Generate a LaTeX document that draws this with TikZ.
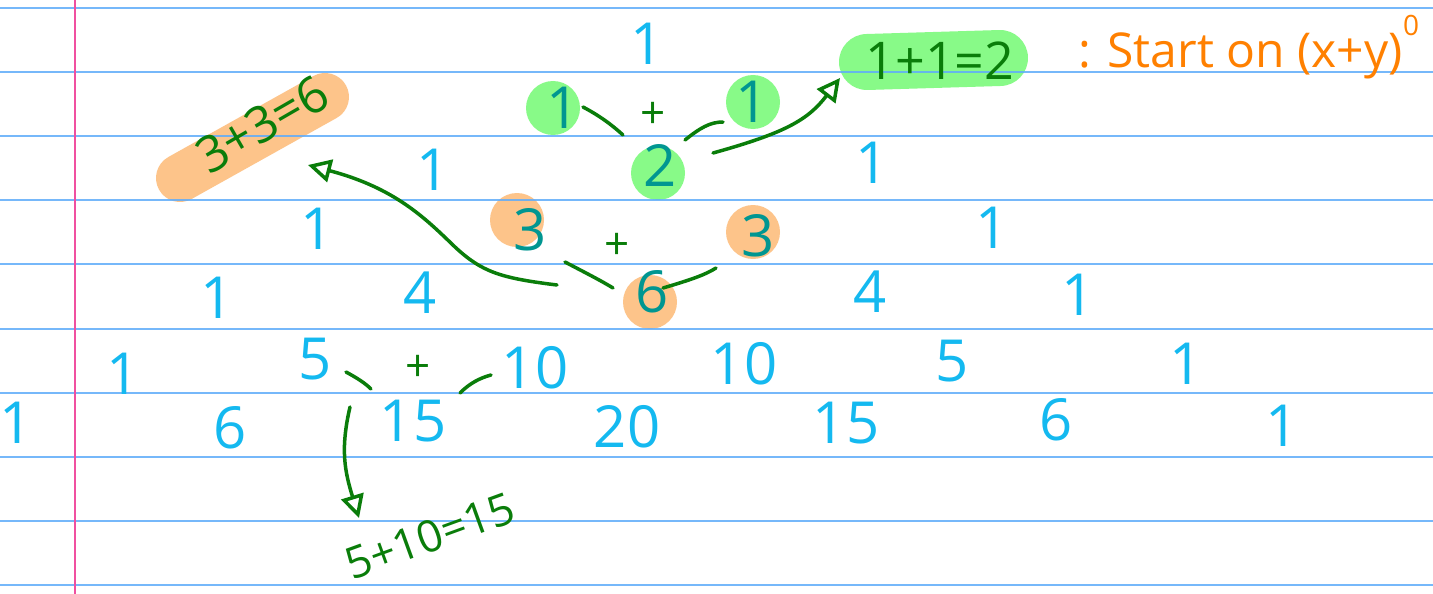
\documentclass[tikz,border=0pt]{standalone}
\usepackage{fontspec}
\setmainfont{Open Sans}
\usetikzlibrary{arrows.meta}
\definecolor{numcyan}{RGB}{20,185,240}
\definecolor{numteal}{RGB}{0,150,145}
\definecolor{pengreen}{RGB}{10,125,10}
\definecolor{hlgreen}{RGB}{136,250,136}
\definecolor{hlorange}{RGB}{253,196,138}
\definecolor{txtorange}{RGB}{255,128,0}
\definecolor{ruleblue}{RGB}{95,172,250}
\definecolor{marginpink}{RGB}{240,80,160}
\begin{document}
\begin{tikzpicture}[x=1pt,y=-1pt,
  num/.style={text=numcyan,font=\fontsize{58}{58}\selectfont,inner sep=0pt},
  cnum/.style={num,text=numteal},
  plus/.style={text=pengreen,font=\fontsize{44}{44}\selectfont,inner sep=0pt},
  pentext/.style={text=pengreen,inner sep=0pt},
  pen/.style={draw=pengreen,line width=3.5pt,line cap=round,line join=round},
  tip/.style={-{Triangle[open,length=23pt,width=23pt]}},
  rule/.style={draw=ruleblue,line width=2.2pt,opacity=0.85},
  hlg/.style={fill=hlgreen},
  hlo/.style={fill=hlorange}]
\useasboundingbox (0,0) rectangle (1433,594);
\fill[white] (0,0) rectangle (1433,594);
% highlights
\fill[hlg] (553,108) circle (27pt);
\fill[hlg] (753,102) circle (27pt);
\fill[hlg] (658,173) circle (27pt);
\fill[hlo] (517,220) circle (27pt);
\fill[hlo] (753,232) circle (27pt);
\fill[hlo] (650,302) circle (27pt);
\draw[draw=hlorange,line width=48pt,line cap=round] (180,178) -- (325,97);
\draw[draw=hlgreen,line width=56pt,line cap=round] (867,62) -- (1000,58);
% ruled paper
\foreach \yy in {8,72,136,200,264,329,393,457,521,585}
  \draw[rule] (0,\yy) -- (1433,\yy);
\draw[draw=marginpink,line width=2pt] (75,0) -- (75,594);
% row 0
\node[num] (r0a) at (647,44) {1};
% row 1
\node[cnum] (r1a) at (563,108) {1};
\node[cnum] (r1b) at (752,102) {1};
\node[plus] (p1) at (653,115) {+};
% row 2
\node[num] (r2a) at (433,170) {1};
\node[cnum] (r2b) at (660,165) {2};
\node[num] (r2c) at (872,163) {1};
% row 3
\node[num] (r3a) at (317,229) {1};
\node[cnum] (r3b) at (530,230) {3};
\node[plus] (p2) at (617,246) {+};
\node[cnum] (r3c) at (758,236) {3};
\node[num] (r3d) at (992,228) {1};
% row 4
\node[num] (r4a) at (217,298) {1};
\node[num] (r4b) at (420,293) {4};
\node[cnum] (r4c) at (652,292) {6};
\node[num] (r4d) at (870,292) {4};
\node[num] (r4e) at (1078,295) {1};
% row 5
\node[num] (r5a) at (123,374) {1};
\node[num] (r5b) at (315,359) {5};
\node[plus] (p3) at (418,368) {+};
\node[num] (r5c) at (535,368) {10};
\node[num] (r5d) at (744,364) {10};
\node[num] (r5e) at (952,361) {5};
\node[num] (r5f) at (1186,364) {1};
% row 6
\node[num] (r6a) at (16,423) {1};
\node[num] (r6b) at (230,428) {6};
\node[num] (r6c) at (413,421) {15};
\node[num] (r6d) at (627,427) {20};
\node[num] (r6e) at (846,423) {15};
\node[num] (r6f) at (1056,420) {6};
\node[num] (r6g) at (1282,426) {1};
% notes
\node[pentext,font=\fontsize{52}{52}\selectfont] (eq11) at (940,61) {1+1=2};
\node[pentext,font=\fontsize{50}{50}\selectfont,rotate=30] (eq33) at (262,124) {3+3=6};
\node[pentext,font=\fontsize{44}{44}\selectfont,rotate=20] (eq15) at (430,536) {5+10=15};
\node[text=txtorange,font=\fontsize{48}{48}\selectfont,inner sep=0pt,anchor=base west] (start) at (1078,67) {: Start on (x+y)};
\node[text=txtorange,font=\fontsize{28}{28}\selectfont,inner sep=0pt,anchor=south west] (sup) at ([yshift=-4pt]start.north east) {0};
% short strokes
\coordinate (s1a) at (583,107); \coordinate (s1b) at (623,135);
\coordinate (s2a) at (685,140); \coordinate (s2b) at (723,122);
\coordinate (s3a) at (565,262); \coordinate (s3b) at (613,288);
\coordinate (s4a) at (663,288); \coordinate (s4b) at (716,268);
\coordinate (s5a) at (346,372); \coordinate (s5b) at (371,389);
\coordinate (s6a) at (460,393); \coordinate (s6b) at (491,375);
\draw[pen] (s1a) .. controls (600,116) and (612,125) .. (s1b);
\draw[pen] (s2a) .. controls (700,128) and (710,122) .. (s2b);
\draw[pen] (s3a) .. controls (582,271) and (600,280) .. (s3b);
\draw[pen] (s4a) .. controls (690,280) and (705,275) .. (s4b);
\draw[pen] (s5a) .. controls (357,378) and (365,383) .. (s5b);
\draw[pen] (s6a) .. controls (470,383) and (480,378) .. (s6b);
% arrows
\coordinate (a1s) at (713,153); \coordinate (a1e) at (840,78);
\coordinate (a2s) at (557,285); \coordinate (a2e) at (308,165);
\coordinate (a3s) at (350,407); \coordinate (a3e) at (359,518);
\draw[pen,tip] (a1s) .. controls (785,133) and (808,120) .. (a1e);
\draw[pen,tip] (a2s) .. controls (500,278) and (482,272) .. (455,247)
  .. controls (425,218) and (395,188) .. (a2e);
\draw[pen,tip] (a3s) .. controls (340,450) and (345,472) .. (a3e);
\end{tikzpicture}
\end{document}
